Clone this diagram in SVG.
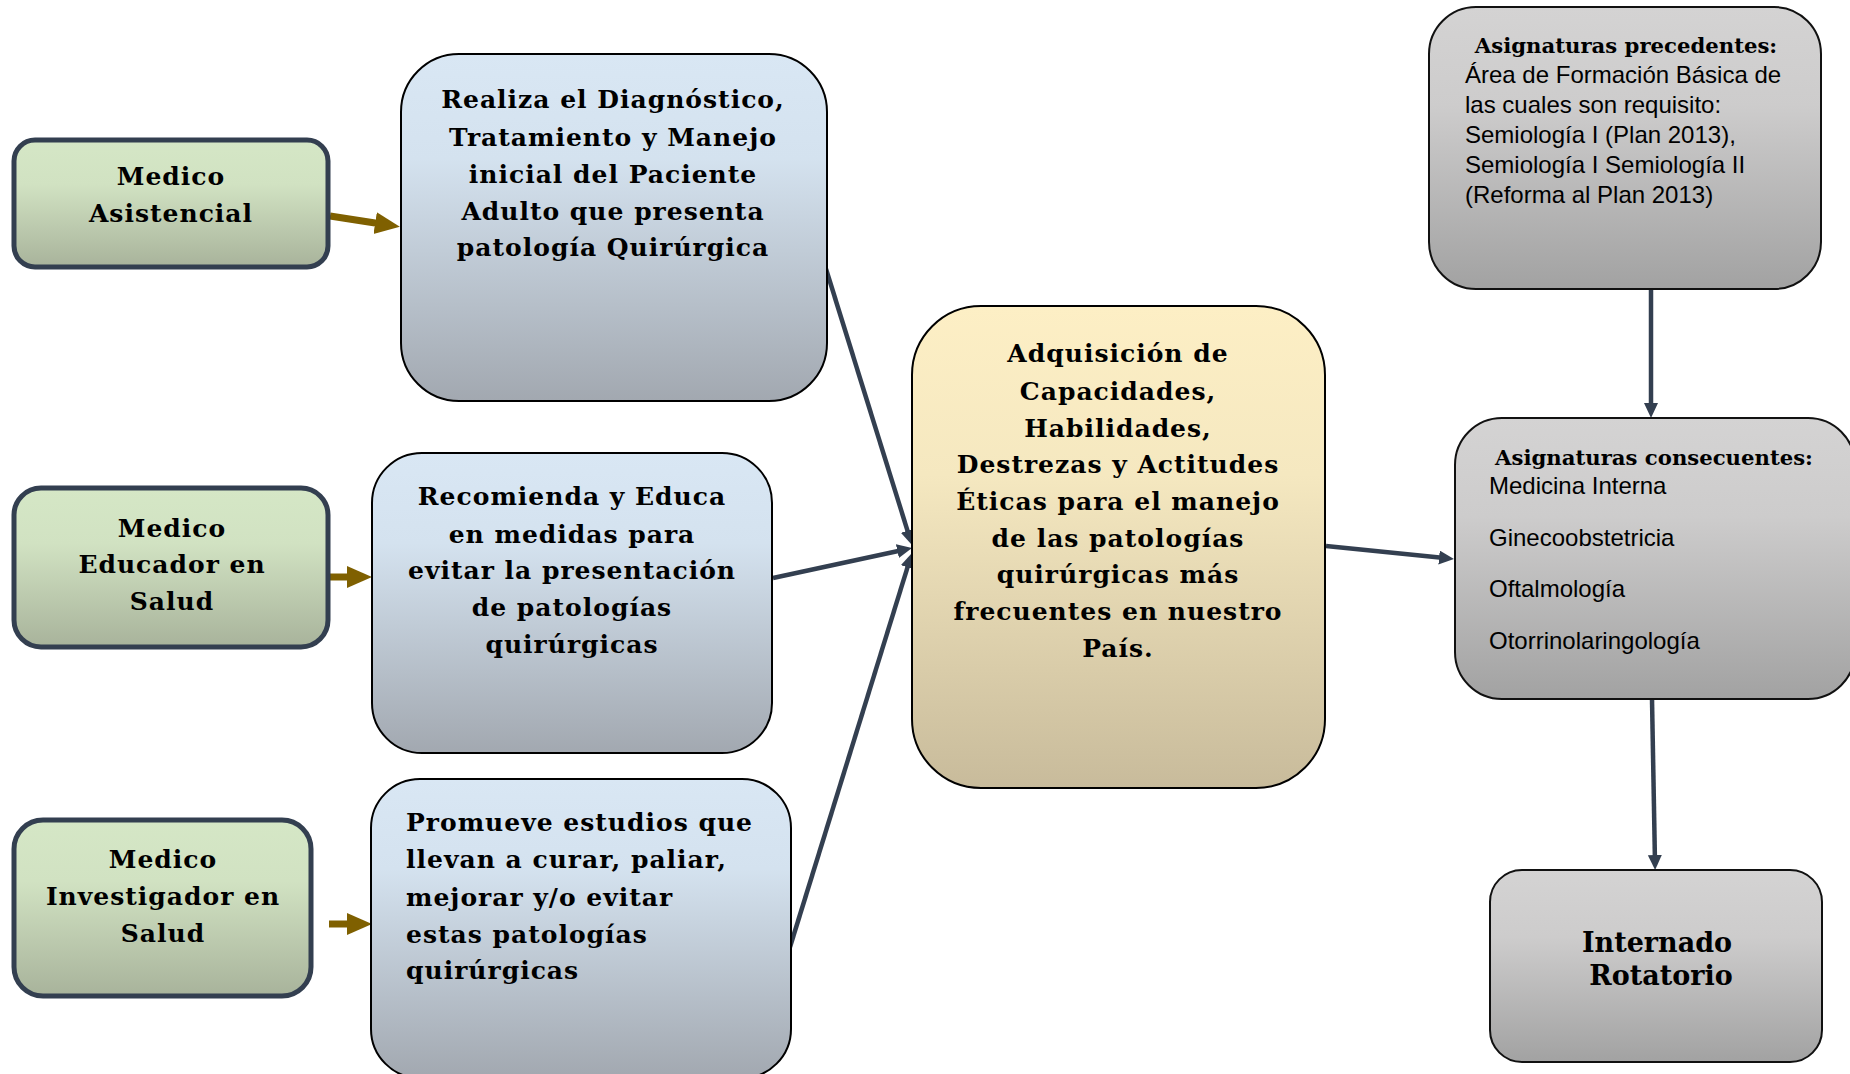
<svg xmlns="http://www.w3.org/2000/svg" width="1850" height="1074" viewBox="0 0 1850 1074">
<defs>
<linearGradient id="gGreen" x1="0" y1="0" x2="0" y2="1">
<stop offset="0" stop-color="#d5e7c6"/><stop offset="0.35" stop-color="#d1e2c2"/><stop offset="1" stop-color="#a8b39b"/>
</linearGradient>
<linearGradient id="gBlue" x1="0" y1="0" x2="0" y2="1">
<stop offset="0" stop-color="#d9e7f4"/><stop offset="0.3" stop-color="#d4e2ef"/><stop offset="1" stop-color="#a2a8b0"/>
</linearGradient>
<linearGradient id="gTan" x1="0" y1="0" x2="0" y2="1">
<stop offset="0" stop-color="#fdefc5"/><stop offset="0.35" stop-color="#f5e8c0"/><stop offset="1" stop-color="#c8bb9b"/>
</linearGradient>
<linearGradient id="gGray" x1="0" y1="0" x2="0" y2="1">
<stop offset="0" stop-color="#d4d3d3"/><stop offset="0.35" stop-color="#cdcccc"/><stop offset="1" stop-color="#a2a2a2"/>
</linearGradient>
<marker id="aBrown" markerUnits="userSpaceOnUse" markerWidth="26" markerHeight="24" refX="13" refY="11" orient="auto">
<path d="M0,0 L25,11 L0,22 z" fill="#7f6000"/>
</marker>
<marker id="aDark" markerUnits="userSpaceOnUse" markerWidth="16" markerHeight="16" refX="8" refY="7" orient="auto">
<path d="M0,0 L15,7 L0,14 z" fill="#333f50"/>
</marker>
</defs>
<style>
.green { fill: url(#gGreen); stroke: #333f50; stroke-width: 5; }
.blue { fill: url(#gBlue); stroke: #000; stroke-width: 2; }
.tan { fill: url(#gTan); stroke: #000; stroke-width: 2; }
.gray { fill: url(#gGray); stroke: #111; stroke-width: 2; }
.h { font-family: "DejaVu Serif", "Liberation Serif", serif; font-weight: bold; font-size: 25px; letter-spacing: 1px; fill: #000; }
.hc { text-anchor: middle; }
.s { font-size: 21.2px; letter-spacing: 0; }
.r { font-size: 27px; letter-spacing: 0; }
.t { font-family: "Liberation Sans", Arial, sans-serif; font-size: 24px; fill: #000; }
.cb { fill: none; stroke: #7f6000; stroke-width: 7; marker-end: url(#aBrown); }
.cd { fill: none; stroke: #333f50; stroke-width: 4.5; marker-end: url(#aDark); }
</style>
<rect width="1850" height="1074" fill="#fff"/>

<g id="connectors">
<line class="cb" x1="330" y1="216" x2="388" y2="225"/>
<line class="cb" x1="329" y1="577" x2="360" y2="577"/>
<line class="cb" x1="329" y1="924" x2="360" y2="924"/>
<line class="cd" x1="826" y1="269" x2="909.9" y2="538.3"/>
<line class="cd" x1="773" y1="578" x2="905.2" y2="549.5"/>
<line class="cd" x1="790" y1="947" x2="909.9" y2="559.7"/>
<line class="cd" x1="1326" y1="546" x2="1447" y2="558.3"/>
<line class="cd" x1="1651" y1="289" x2="1651" y2="411"/>
<line class="cd" x1="1652" y1="699" x2="1655" y2="863"/>
</g>

<g id="medico-asistencial">
<rect class="green" x="14" y="140" width="314" height="127" rx="21"/>
<text class="h hc" x="171" y="185">Medico</text>
<text class="h hc" x="171" y="222">Asistencial</text>
</g>

<g id="medico-educador">
<rect class="green" x="14" y="488" width="314" height="159" rx="27"/>
<text class="h hc" x="172" y="537">Medico</text>
<text class="h hc" x="172" y="573">Educador en</text>
<text class="h hc" x="172" y="610">Salud</text>
</g>

<g id="medico-investigador">
<rect class="green" x="14" y="820" width="297" height="176" rx="29"/>
<text class="h hc" x="163" y="868">Medico</text>
<text class="h hc" x="163" y="905">Investigador en</text>
<text class="h hc" x="163" y="942">Salud</text>
</g>

<g id="diagnostico">
<rect class="blue" x="401" y="54" width="426" height="347" rx="58"/>
<text class="h hc" x="613" y="108">Realiza el Diagnóstico,</text>
<text class="h hc" x="613" y="146">Tratamiento y Manejo</text>
<text class="h hc" x="613" y="183">inicial del Paciente</text>
<text class="h hc" x="613" y="220">Adulto que presenta</text>
<text class="h hc" x="613" y="256">patología Quirúrgica</text>
</g>

<g id="recomienda">
<rect class="blue" x="372" y="453" width="400" height="300" rx="50"/>
<text class="h hc" x="572" y="505">Recomienda y Educa</text>
<text class="h hc" x="572" y="543">en medidas para</text>
<text class="h hc" x="572" y="579">evitar la presentación</text>
<text class="h hc" x="572" y="616">de patologías</text>
<text class="h hc" x="572" y="653">quirúrgicas</text>
</g>

<g id="promueve">
<rect class="blue" x="371" y="779" width="420" height="299" rx="49"/>
<text class="h" x="406" y="831">Promueve estudios que</text>
<text class="h" x="406" y="868">llevan a curar, paliar,</text>
<text class="h" x="406" y="906">mejorar y/o evitar</text>
<text class="h" x="406" y="943">estas patologías</text>
<text class="h" x="406" y="979">quirúrgicas</text>
</g>

<g id="adquisicion">
<rect class="tan" x="912" y="306" width="413" height="482" rx="69"/>
<text class="h hc" x="1118" y="362">Adquisición de</text>
<text class="h hc" x="1118" y="400">Capacidades,</text>
<text class="h hc" x="1118" y="437">Habilidades,</text>
<text class="h hc" x="1118" y="473">Destrezas y Actitudes</text>
<text class="h hc" x="1118" y="510">Éticas para el manejo</text>
<text class="h hc" x="1118" y="547">de las patologías</text>
<text class="h hc" x="1118" y="583">quirúrgicas más</text>
<text class="h hc" x="1118" y="620">frecuentes en nuestro</text>
<text class="h hc" x="1118" y="657">País.</text>
</g>

<g id="precedentes">
<rect class="gray" x="1429" y="7" width="392" height="282" rx="47"/>
<text class="h hc s" x="1626" y="53">Asignaturas precedentes:</text>
<text class="t" x="1465" y="83">Área de Formación Básica de</text>
<text class="t" x="1465" y="113">las cuales son requisito:</text>
<text class="t" x="1465" y="143">Semiología I (Plan 2013),</text>
<text class="t" x="1465" y="173">Semiología I Semiología II</text>
<text class="t" x="1465" y="203">(Reforma al Plan 2013)</text>
</g>

<g id="consecuentes">
<rect class="gray" x="1455" y="418" width="400" height="281" rx="47"/>
<text class="h hc s" x="1654" y="465">Asignaturas consecuentes:</text>
<text class="t" x="1489" y="494">Medicina Interna</text>
<text class="t" x="1489" y="546">Ginecoobstetricia</text>
<text class="t" x="1489" y="597">Oftalmología</text>
<text class="t" x="1489" y="649">Otorrinolaringología</text>
</g>

<g id="internado">
<rect class="gray" x="1490" y="870" width="332" height="192" rx="32"/>
<text class="h hc r" x="1657" y="952">Internado</text>
<text class="h hc r" x="1661" y="985">Rotatorio</text>
</g>
</svg>
